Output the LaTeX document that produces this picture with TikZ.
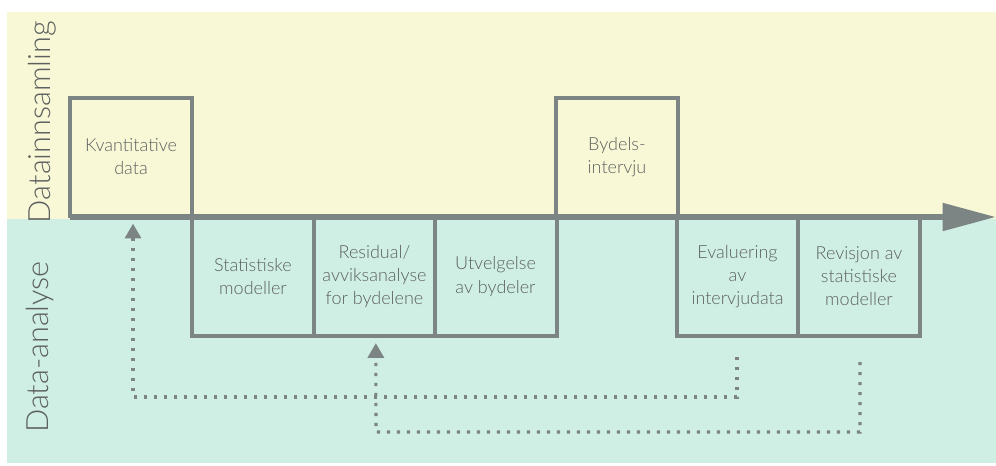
\documentclass[tikz,border=0pt]{standalone}
\usepackage{fontspec}
\setmainfont{Lato}[UprightFont=* Light]
\usetikzlibrary{arrows.meta}
\definecolor{bgyellow}{HTML}{F9F8D6}
\definecolor{bgteal}{HTML}{CFEFE5}
\definecolor{linegray}{HTML}{7C8583}
\definecolor{textgray}{HTML}{5C605F}
\tikzset{
  box/.style={draw=linegray, line width=3pt, minimum width=91.5pt, minimum height=89pt,
    align=center, text=textgray, font=\fontsize{13.5}{17.3}\selectfont, inner sep=0pt},
  topbox/.style={box, fill=bgyellow},
  botbox/.style={box, fill=bgteal},
  sidelabel/.style={rotate=90, text=textgray, font=\fontsize{23}{27}\selectfont},
  axisline/.style={draw=linegray, line width=4.5pt, -{Triangle[length=40pt, width=20pt]}},
  feedback/.style={draw=linegray, line width=2.3pt, dash pattern=on 2.3pt off 5.2pt,
    -{Triangle[length=11pt, width=12pt]}}
}
\begin{document}
\begin{tikzpicture}[x=0.75pt, y=-0.75pt]
\useasboundingbox (0,0) rectangle (996,465);
\fill[bgyellow] (7,12) rectangle (996,219);
\fill[bgteal] (7,219) rectangle (996,463);
\node[sidelabel] (lab1) at (42,122) {Datainnsamling};
\node[sidelabel] (lab2) at (40,347) {Data-analyse};
% boxes
\node[topbox] (kd) at (131,157) {Kvantitative\\data};
\node[topbox] (by) at (617,157) {Bydels-\\intervju};
\node[botbox] (sm) at (253,276.5) {Statistiske\\modeller};
\node[botbox] (ra) at (374.5,276.5) {Residual/\\avviksanalyse\\for bydelene};
\node[botbox] (ub) at (495.5,276.5) {Utvelgelse\\av bydeler};
\node[botbox] (ev) at (737.5,276.5) {Evaluering\\av\\intervjudata};
\node[botbox] (rv) at (859,276.5) {Revisjon av\\statistiske\\modeller};
% axis
\coordinate (a0) at (70,217);
\coordinate (a1) at (996,217);
\draw[axisline] (a0) -- (a1);
% feedback loops
\coordinate (e1) at (737,357);
\coordinate (r1) at (860,362);
\draw[feedback] (e1) -- (737,397) -- (133,397) -- ([xshift=1.5pt, yshift=-4pt]kd.south);
\draw[feedback] (r1) -- (860,432) -- (376,432) -- ([xshift=1pt, yshift=-4pt]ra.south);
\end{tikzpicture}
\end{document}
